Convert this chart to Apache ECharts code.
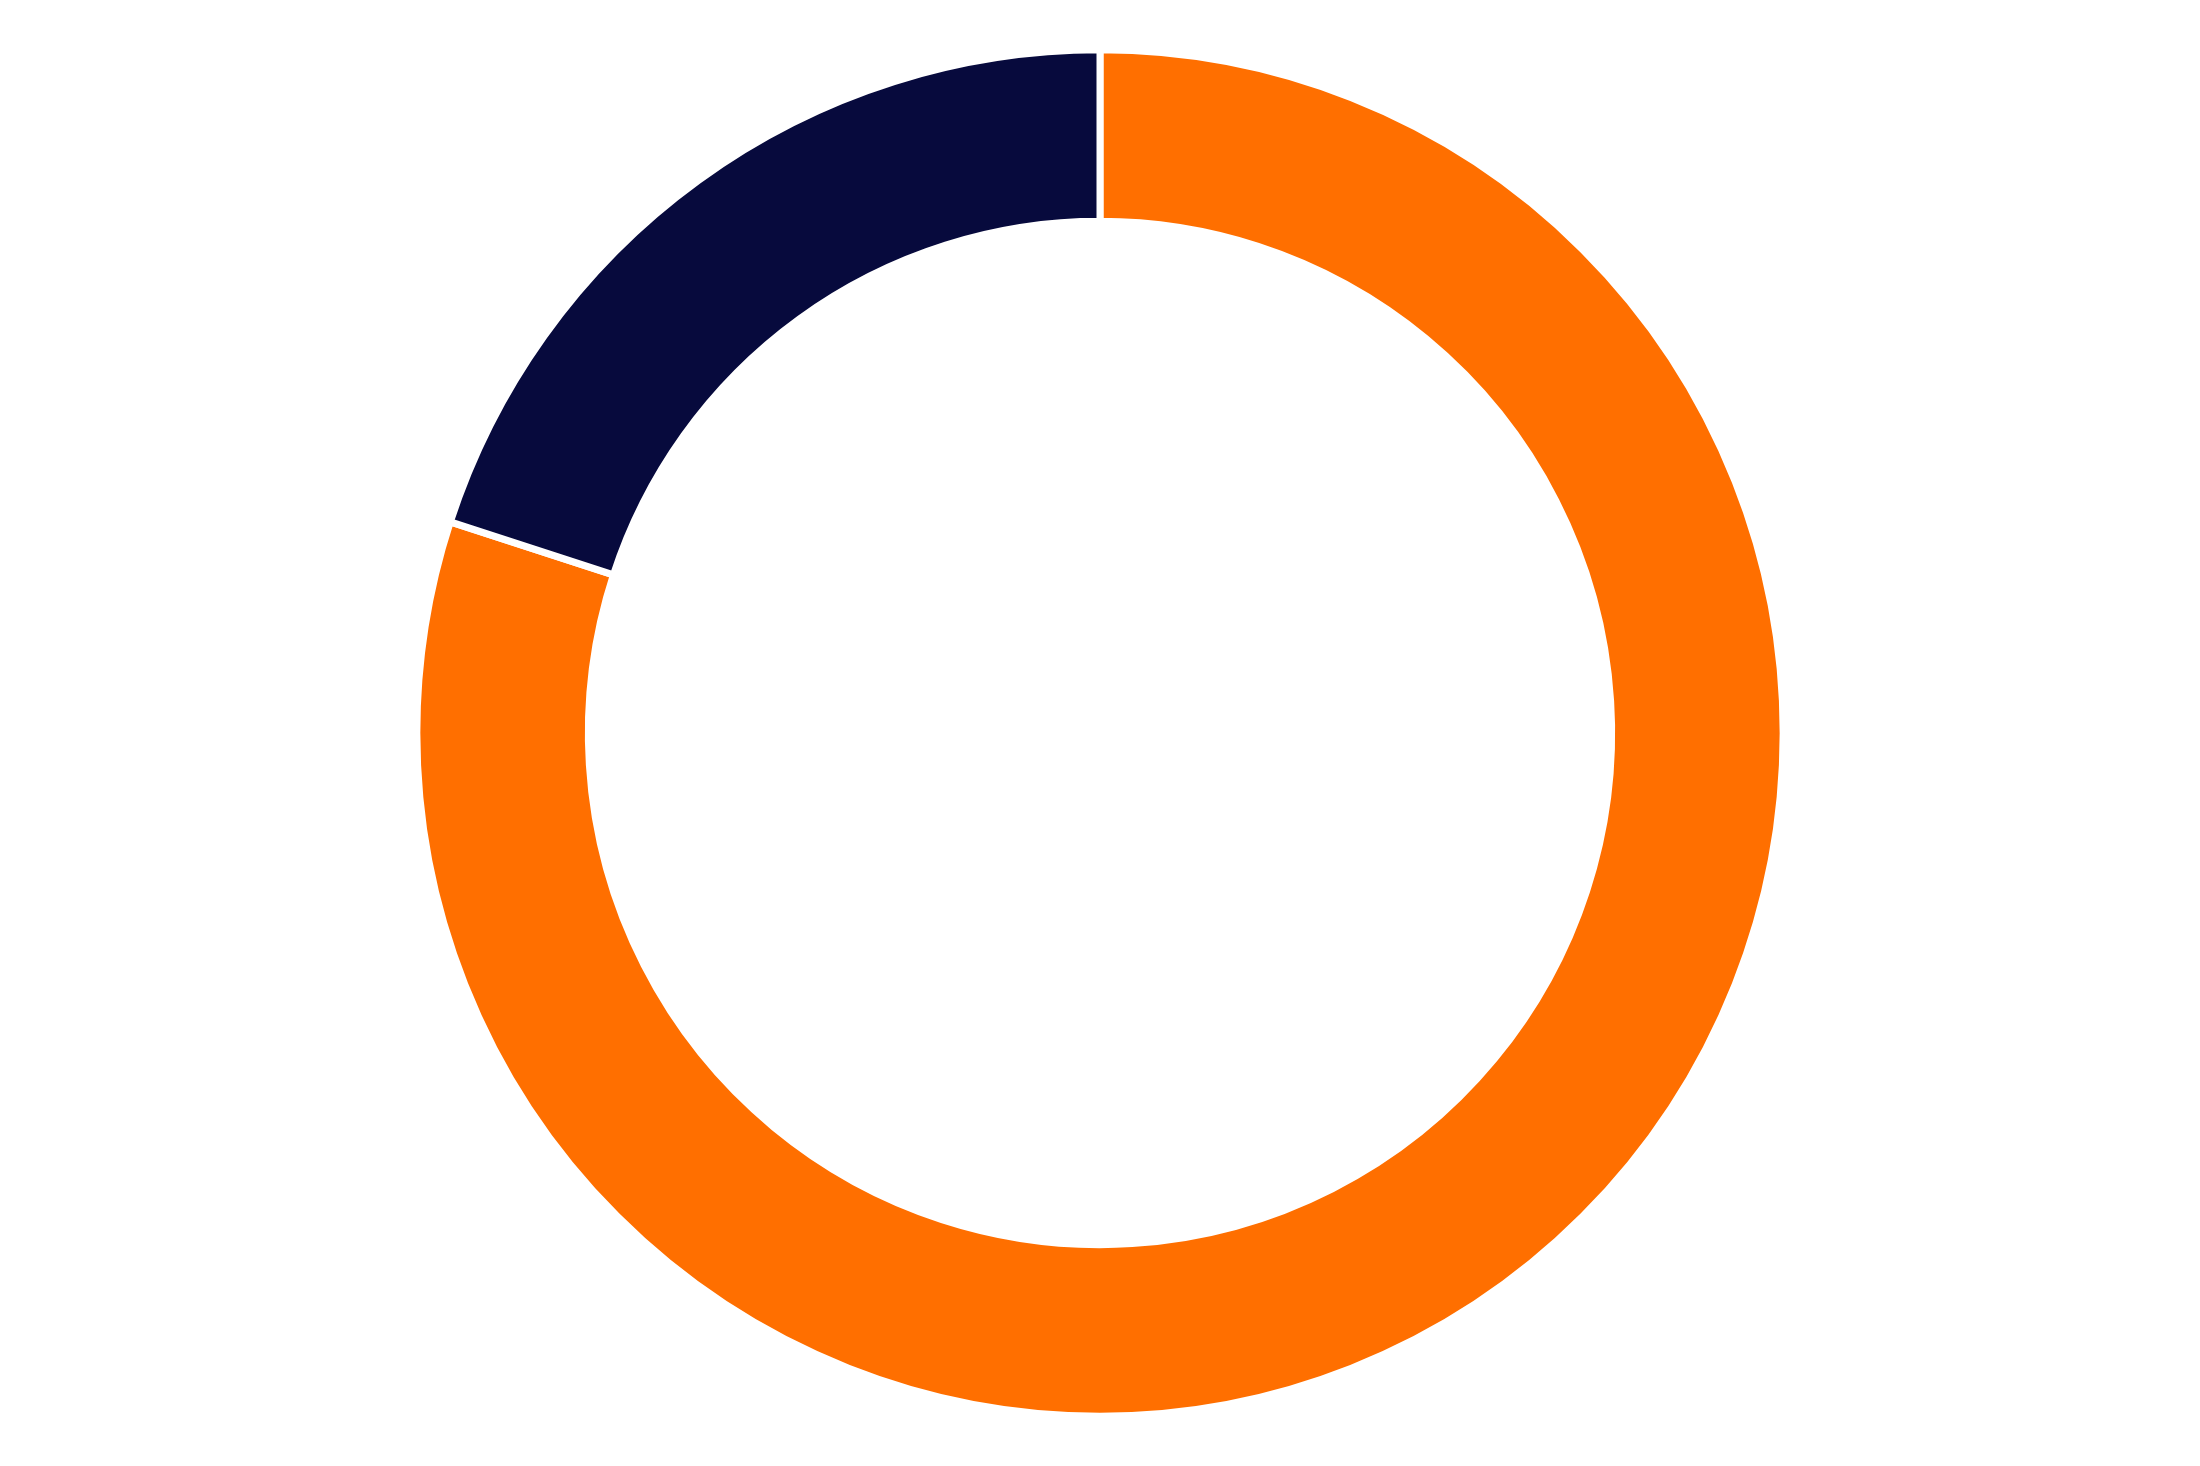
<!DOCTYPE html>
<html><head><meta charset="utf-8">
<script src="https://cdn.jsdelivr.net/npm/echarts@6/dist/echarts.min.js"></script>
<style>html,body{margin:0;padding:0;background:#fff}#c{width:2200px;height:1466px}</style>
</head><body><div id="c"></div>
<script>
const categories = ['A', 'B'];
const values = [80, 20];
const colors = ['#ff6f00', '#070a3d'];
const chart = echarts.init(document.getElementById('c'));
chart.setOption({
  animation: false,
  series: [{
    type: 'pie',
    center: ['50%', '50%'],
    radius: ['69.8%', '93.2%'],
    startAngle: 90,
    clockwise: true,
    label: { show: false },
    labelLine: { show: false },
    itemStyle: { borderColor: '#ffffff', borderWidth: 7 },
    data: categories.map((c, i) => ({ name: c, value: values[i], itemStyle: { color: colors[i] } }))
  }]
});
</script></body></html>
